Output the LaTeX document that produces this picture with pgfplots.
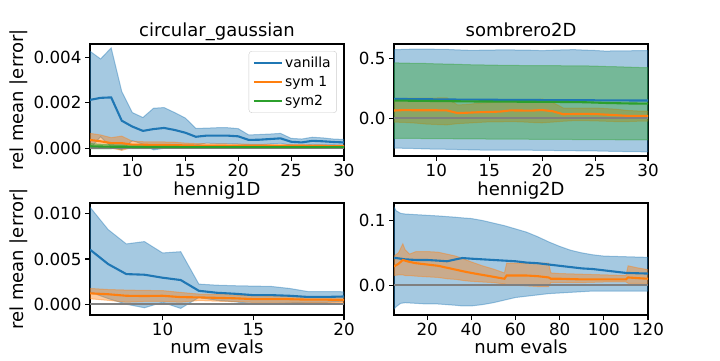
\documentclass[border=0pt]{standalone}
\usepackage{fontspec}
\setmainfont{DejaVu Sans}
\usepackage{pgfplots}
\usepackage{pgfplotstable}
\pgfplotsset{compat=1.18}
\usepgfplotslibrary{fillbetween}

\definecolor{tabblue}{RGB}{31,119,180}
\definecolor{taborange}{RGB}{255,127,14}
\definecolor{tabgreen}{RGB}{44,160,44}
\definecolor{zerogray}{RGB}{128,128,128}

% circular_gaussian: mean / upper / lower for each method
\pgfplotstableread{
x  bm      bu      bl       om      ou      ol       gm      gu      gl
6  0.00213 0.00428 -0.00002 0.00036 0.00065 0.00010  0.00008 0.00020 -0.00004
7  0.00222 0.00394 0.00050  0.00030 0.00058 0.00005  0.00007 0.00017 -0.00003
8  0.00224 0.00443 0.00005  0.00022 0.00046 0.00000  0.00006 0.00015 -0.00003
9  0.00121 0.00250 -0.00008 0.00022 0.00053 -0.00010 0.00006 0.00014 -0.00002
10 0.00095 0.00157 0.00033  0.00015 0.00030 0.00003  0.00005 0.00013 -0.00002
11 0.00076 0.00135 0.00017  0.00015 0.00028 0.00003  0.00005 0.00012 -0.00002
12 0.00084 0.00176 -0.00008 0.00014 0.00027 0.00002  0.00005 0.00012 -0.00002
13 0.00089 0.00179 -0.00001 0.00014 0.00027 0.00002  0.00005 0.00011 -0.00001
14 0.00080 0.00157 0.00003  0.00013 0.00026 0.00002  0.00005 0.00011 -0.00001
15 0.00068 0.00133 0.00003  0.00012 0.00022 0.00002  0.00004 0.00010 -0.00001
16 0.00050 0.00087 0.00013  0.00011 0.00020 0.00002  0.00004 0.00010 -0.00001
17 0.00055 0.00088 0.00022  0.00011 0.00019 0.00003  0.00004 0.00010 -0.00001
18 0.00055 0.00090 0.00020  0.00011 0.00019 0.00003  0.00004 0.00009 -0.00001
19 0.00055 0.00090 0.00020  0.00010 0.00018 0.00003  0.00004 0.00009 -0.00001
20 0.00052 0.00086 0.00018  0.00010 0.00017 0.00003  0.00004 0.00009 -0.00001
21 0.00036 0.00058 0.00014  0.00010 0.00017 0.00003  0.00004 0.00009 -0.00001
22 0.00037 0.00060 0.00014  0.00010 0.00016 0.00003  0.00004 0.00009 -0.00001
23 0.00040 0.00062 0.00018  0.00010 0.00016 0.00003  0.00004 0.00008 -0.00001
24 0.00043 0.00065 0.00021  0.00009 0.00015 0.00003  0.00004 0.00008 -0.00001
25 0.00028 0.00043 0.00013  0.00009 0.00015 0.00003  0.00004 0.00008 -0.00001
26 0.00025 0.00040 0.00010  0.00009 0.00015 0.00003  0.00004 0.00008 -0.00001
27 0.00032 0.00048 0.00016  0.00009 0.00014 0.00003  0.00004 0.00008 -0.00001
28 0.00030 0.00045 0.00015  0.00009 0.00014 0.00003  0.00004 0.00008 -0.00001
29 0.00027 0.00040 0.00014  0.00008 0.00013 0.00003  0.00004 0.00008 -0.00001
30 0.00025 0.00038 0.00012  0.00008 0.00013 0.00003  0.00004 0.00008 -0.00001
}\tcg

% sombrero2D
\pgfplotstableread{
x  bm    bu    bl     om    ou    ol     gm    gu    gl
6  0.161 0.570 -0.248 0.064 0.160 -0.032 0.147 0.460 -0.167
7  0.160 0.572 -0.250 0.068 0.165 -0.035 0.146 0.458 -0.168
8  0.158 0.575 -0.252 0.066 0.168 -0.040 0.145 0.456 -0.168
9  0.158 0.575 -0.255 0.066 0.167 -0.048 0.144 0.455 -0.169
10 0.157 0.573 -0.257 0.066 0.168 -0.052 0.143 0.452 -0.170
11 0.157 0.572 -0.258 0.065 0.170 -0.055 0.142 0.450 -0.170
12 0.155 0.568 -0.260 0.043 0.110 -0.045 0.141 0.448 -0.171
13 0.155 0.565 -0.262 0.046 0.115 -0.040 0.140 0.445 -0.172
14 0.154 0.565 -0.264 0.050 0.125 -0.035 0.139 0.443 -0.172
15 0.154 0.566 -0.265 0.052 0.130 -0.030 0.139 0.442 -0.173
16 0.153 0.568 -0.265 0.055 0.135 -0.030 0.138 0.440 -0.173
17 0.153 0.568 -0.266 0.065 0.150 -0.028 0.138 0.440 -0.174
18 0.152 0.566 -0.265 0.064 0.150 -0.030 0.137 0.438 -0.174
19 0.152 0.565 -0.266 0.063 0.145 -0.035 0.137 0.438 -0.175
20 0.151 0.562 -0.268 0.068 0.160 -0.038 0.136 0.437 -0.175
21 0.151 0.565 -0.268 0.058 0.130 -0.032 0.136 0.437 -0.176
22 0.150 0.568 -0.270 0.033 0.085 -0.025 0.135 0.436 -0.176
23 0.150 0.570 -0.270 0.035 0.085 -0.020 0.134 0.436 -0.177
24 0.150 0.566 -0.272 0.036 0.085 -0.020 0.133 0.435 -0.177
25 0.149 0.563 -0.272 0.035 0.085 -0.022 0.130 0.433 -0.178
26 0.149 0.558 -0.274 0.030 0.080 -0.025 0.127 0.430 -0.178
27 0.148 0.560 -0.276 0.025 0.075 -0.028 0.125 0.428 -0.179
28 0.148 0.560 -0.277 0.020 0.065 -0.028 0.123 0.425 -0.180
29 0.147 0.562 -0.278 0.020 0.060 -0.025 0.122 0.422 -0.180
30 0.147 0.562 -0.280 0.020 0.058 -0.025 0.121 0.420 -0.181
}\tsom

% hennig1D
\pgfplotstableread{
x  bm      bu      bl       om      ou      ol
6  0.00604 0.01074 0.00134  0.00120 0.00174 0.00060
7  0.00444 0.00826 0.00062  0.00110 0.00162 0.00042
8  0.00333 0.00667 -0.00001 0.00093 0.00156 0.00022
9  0.00326 0.00693 -0.00040 0.00090 0.00152 0.00030
10 0.00293 0.00567 0.00020  0.00093 0.00150 0.00030
11 0.00267 0.00581 -0.00047 0.00078 0.00130 0.00022
12 0.00148 0.00222 0.00074  0.00075 0.00112 0.00040
13 0.00126 0.00210 0.00042  0.00070 0.00108 0.00033
14 0.00115 0.00204 0.00026  0.00065 0.00102 0.00028
15 0.00100 0.00200 0.00000  0.00056 0.00095 0.00020
16 0.00100 0.00196 0.00004  0.00056 0.00092 0.00020
17 0.00093 0.00174 0.00012  0.00055 0.00090 0.00020
18 0.00080 0.00140 0.00020  0.00050 0.00085 0.00018
19 0.00080 0.00140 0.00020  0.00050 0.00082 0.00018
20 0.00085 0.00137 0.00033  0.00045 0.00080 0.00015
}\thone

% hennig2D, vanilla
\pgfplotstableread{
x   bm    bu    bl
5   0.042 0.121 -0.037
6   0.042 0.115 -0.033
8   0.041 0.111 -0.028
10  0.040 0.110 -0.027
15  0.039 0.109 -0.028
20  0.039 0.108 -0.029
25  0.038 0.107 -0.029
29  0.037 0.106 -0.030
33  0.040 0.105 -0.031
36  0.042 0.104 -0.032
40  0.041 0.103 -0.032
45  0.040 0.100 -0.030
50  0.039 0.096 -0.027
55  0.038 0.092 -0.023
60  0.037 0.087 -0.019
65  0.035 0.082 -0.017
70  0.034 0.075 -0.015
75  0.032 0.067 -0.013
80  0.030 0.060 -0.012
85  0.028 0.054 -0.011
90  0.026 0.050 -0.010
95  0.025 0.047 -0.009
100 0.023 0.045 -0.009
110 0.019 0.044 -0.009
120 0.018 0.043 -0.009
}\thtwob

% hennig2D, sym 1
\pgfplotstableread{
x   om    ou    ol
5   0.029 0.045 0.015
7   0.033 0.050 0.016
9   0.039 0.064 0.016
10  0.038 0.055 0.015
12  0.036 0.048 0.015
15  0.034 0.052 0.014
20  0.032 0.052 0.013
25  0.030 0.051 0.012
29  0.027 0.048 0.010
33  0.024 0.045 0.009
37  0.021 0.040 0.007
40  0.019 0.036 0.006
45  0.016 0.030 0.005
50  0.013 0.025 0.004
55  0.010 0.019 0.002
56  0.015 0.034 0.001
60  0.015 0.034 0.000
65  0.015 0.034 -0.001
70  0.014 0.034 -0.002
75  0.012 0.034 -0.002
76  0.010 0.019 0.004
80  0.010 0.018 0.004
90  0.009 0.017 0.004
100 0.009 0.016 0.005
110 0.009 0.015 0.005
111 0.012 0.030 0.003
115 0.011 0.027 0.003
120 0.010 0.024 0.003
}\thtwoo

\pgfplotsset{
  panel/.style={
    scale only axis, width=254pt, height=112pt, anchor=south west,
    axis line style={line width=1.1pt},
    tick align=outside, tick pos=left, major tick length=5pt,
    every tick/.style={black, line width=1.1pt},
    tick label style={font=\fontsize{16.7}{20}\selectfont},
    label style={font=\fontsize{18}{21}\selectfont},
    title style={font=\fontsize{18}{21}\selectfont, at={(0.5,1)}, anchor=base, inner sep=0pt, yshift=1.5pt},
    /pgf/number format/assume math mode=true,
    scaled ticks=false,
    ylabel style={at={(axis description cs:-0.28,0.5)}, anchor=center, rotate=0},
    xlabel style={at={(axis description cs:0.5,-0.28)}, anchor=center},
  },
  band/.style={fill=#1, draw=#1, line width=1pt, opacity=0.4, forget plot},
  mean/.style={#1, line width=2.1pt},
}

\begin{document}
\begin{tikzpicture}

% top left
\begin{axis}[panel, at={(90pt,204pt)},
  title={circular\_gaussian},
  xmin=6, xmax=30, ymin=-0.00035, ymax=0.0046,
  xtick={10,15,20,25,30}, ytick={0,0.002,0.004},
  yticklabel style={/pgf/number format/.cd, fixed, fixed zerofill, precision=3},
  ylabel={rel mean |error|},
  legend style={at={(axis description cs:0.972,0.9375)}, anchor=north east,
    font=\fontsize{13.9}{16}\selectfont, draw=black!20, rounded corners=3pt,
    fill=white, fill opacity=0.8, text opacity=1, row sep=3pt, inner sep=4pt},
  legend cell align=left,
  legend image code/.code={\draw[#1] (0pt,0pt) -- (28pt,0pt);},
]
\addplot[draw=none, forget plot, name path=bu] table[x=x, y=bu] {\tcg};
\addplot[draw=none, forget plot, name path=bl] table[x=x, y=bl] {\tcg};
\addplot[draw=none, forget plot, name path=ou] table[x=x, y=ou] {\tcg};
\addplot[draw=none, forget plot, name path=ol] table[x=x, y=ol] {\tcg};
\addplot[draw=none, forget plot, name path=gu] table[x=x, y=gu] {\tcg};
\addplot[draw=none, forget plot, name path=gl] table[x=x, y=gl] {\tcg};
\addplot[band=tabblue] fill between[of=bu and bl];
\addplot[band=taborange] fill between[of=ou and ol];
\addplot[band=tabgreen] fill between[of=gu and gl];
\addplot[mean=zerogray, forget plot] coordinates {(6,0) (30,0)};
\addplot[mean=tabblue] table[x=x, y=bm] {\tcg};
\addlegendentry{vanilla}
\addplot[mean=taborange] table[x=x, y=om] {\tcg};
\addlegendentry{sym 1}
\addplot[mean=tabgreen] table[x=x, y=gm] {\tcg};
\addlegendentry{sym2}
\end{axis}

% top right
\begin{axis}[panel, at={(394pt,204pt)},
  title={sombrero2D},
  xmin=6, xmax=30, ymin=-0.314, ymax=0.617,
  xtick={10,15,20,25,30}, ytick={0,0.5},
  yticklabel style={/pgf/number format/.cd, fixed, fixed zerofill, precision=1},
]
\addplot[draw=none, forget plot, name path=bu] table[x=x, y=bu] {\tsom};
\addplot[draw=none, forget plot, name path=bl] table[x=x, y=bl] {\tsom};
\addplot[draw=none, forget plot, name path=ou] table[x=x, y=ou] {\tsom};
\addplot[draw=none, forget plot, name path=ol] table[x=x, y=ol] {\tsom};
\addplot[draw=none, forget plot, name path=gu] table[x=x, y=gu] {\tsom};
\addplot[draw=none, forget plot, name path=gl] table[x=x, y=gl] {\tsom};
\addplot[band=tabblue] fill between[of=bu and bl];
\addplot[band=taborange] fill between[of=ou and ol];
\addplot[band=tabgreen] fill between[of=gu and gl];
\addplot[mean=zerogray] coordinates {(6,0) (30,0)};
\addplot[mean=tabblue] table[x=x, y=bm] {\tsom};
\addplot[mean=taborange] table[x=x, y=om] {\tsom};
\addplot[mean=tabgreen] table[x=x, y=gm] {\tsom};
\end{axis}

% bottom left
\begin{axis}[panel, at={(90pt,45pt)},
  title={hennig1D},
  xmin=6, xmax=20, ymin=-0.0012, ymax=0.0112,
  xtick={10,15,20}, ytick={0,0.005,0.010},
  yticklabel style={/pgf/number format/.cd, fixed, fixed zerofill, precision=3},
  ylabel={rel mean |error|}, xlabel={num evals},
]
\addplot[draw=none, forget plot, name path=bu] table[x=x, y=bu] {\thone};
\addplot[draw=none, forget plot, name path=bl] table[x=x, y=bl] {\thone};
\addplot[draw=none, forget plot, name path=ou] table[x=x, y=ou] {\thone};
\addplot[draw=none, forget plot, name path=ol] table[x=x, y=ol] {\thone};
\addplot[band=tabblue] fill between[of=bu and bl];
\addplot[band=taborange] fill between[of=ou and ol];
\addplot[mean=zerogray] coordinates {(6,0) (20,0)};
\addplot[mean=tabblue] table[x=x, y=bm] {\thone};
\addplot[mean=taborange] table[x=x, y=om] {\thone};
\end{axis}

% bottom right
\begin{axis}[panel, at={(394pt,45pt)},
  title={hennig2D},
  xmin=5, xmax=120, ymin=-0.046, ymax=0.127,
  xtick={20,40,60,80,100,120}, ytick={0,0.1},
  yticklabel style={/pgf/number format/.cd, fixed, fixed zerofill, precision=1},
  xlabel={num evals},
]
\addplot[draw=none, forget plot, name path=bu] table[x=x, y=bu] {\thtwob};
\addplot[draw=none, forget plot, name path=bl] table[x=x, y=bl] {\thtwob};
\addplot[draw=none, forget plot, name path=ou] table[x=x, y=ou] {\thtwoo};
\addplot[draw=none, forget plot, name path=ol] table[x=x, y=ol] {\thtwoo};
\addplot[band=tabblue] fill between[of=bu and bl];
\addplot[band=taborange] fill between[of=ou and ol];
\addplot[mean=zerogray] coordinates {(5,0) (120,0)};
\addplot[mean=tabblue] table[x=x, y=bm] {\thtwob};
\addplot[mean=taborange] table[x=x, y=om] {\thtwoo};
\end{axis}

\pgfresetboundingbox
\useasboundingbox (0,0) rectangle (720pt,360pt);
\end{tikzpicture}
\end{document}
